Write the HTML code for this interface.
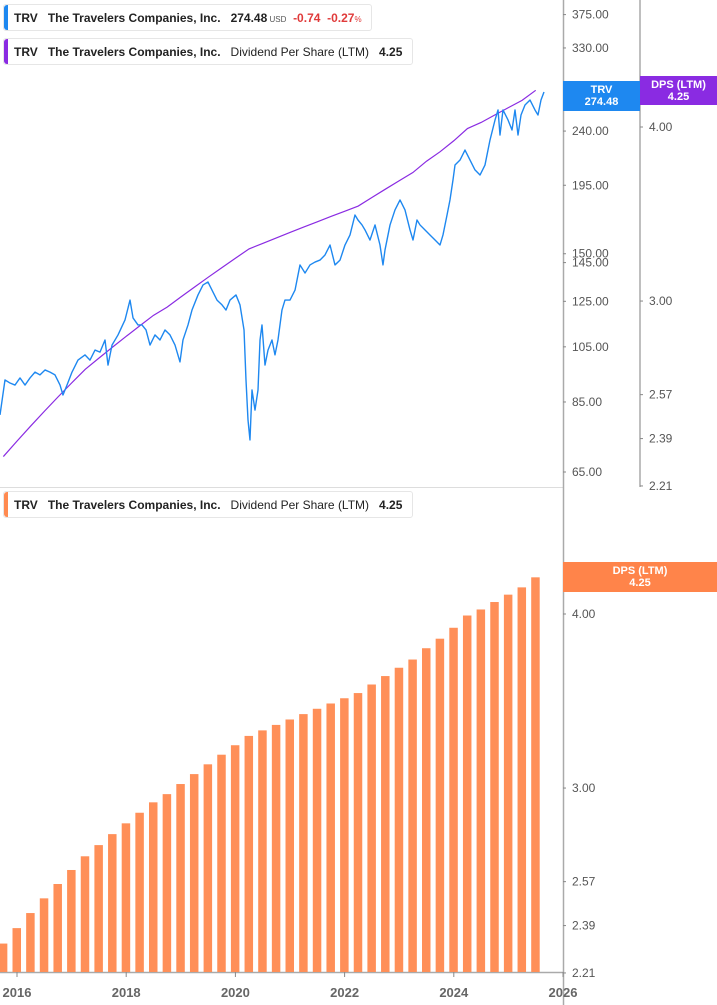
<!DOCTYPE html>
<html><head><meta charset="utf-8">
<style>
body{margin:0;background:#fff;font-family:"Liberation Sans",sans-serif;}
#wrap{position:relative;width:717px;height:1005px;overflow:hidden;}
.leg{position:absolute;left:3px;height:27px;border:1px solid #e6e6e6;border-radius:3px;background:#fff;font-size:12px;line-height:27px;color:#222;white-space:nowrap;box-sizing:border-box;padding-left:10px;}
.leg .bar{position:absolute;left:0;top:0;bottom:0;width:4px;border-radius:3px 0 0 3px;}
.leg b{font-weight:bold;}
</style></head><body>
<div id="wrap">
<svg id="svg" width="717" height="1005" style="position:absolute;left:0;top:0"></svg>
<div class="leg" style="top:4px;width:369px"><span class="bar" style="background:#1e88f0"></span><b>TRV</b>&nbsp;&nbsp;&nbsp;<b>The Travelers Companies, Inc.</b>&nbsp;&nbsp;&nbsp;<b>274.48</b><span style="font-size:8px;color:#555"> USD</span>&nbsp;&nbsp;<b style="color:#e03a3a">-0.74</b>&nbsp;&nbsp;<b style="color:#e03a3a">-0.27</b><span style="font-size:8px;color:#e03a3a">%</span></div>
<div class="leg" style="top:38px;width:410px"><span class="bar" style="background:#8a2be2"></span><b>TRV</b>&nbsp;&nbsp;&nbsp;<b>The Travelers Companies, Inc.</b>&nbsp;&nbsp;&nbsp;Dividend Per Share (LTM)&nbsp;&nbsp;&nbsp;<b>4.25</b></div>
<div class="leg" style="top:491px;width:410px"><span class="bar" style="background:#ff8a50"></span><b>TRV</b>&nbsp;&nbsp;&nbsp;<b>The Travelers Companies, Inc.</b>&nbsp;&nbsp;&nbsp;Dividend Per Share (LTM)&nbsp;&nbsp;&nbsp;<b>4.25</b></div>
</div>
<script>
const priceDates=[2015.689,2015.780,2015.872,2015.963,2016.055,2016.147,2016.238,2016.330,2016.421,2016.513,2016.604,2016.696,2016.788,2016.842,2016.916,2017.007,2017.117,2017.245,2017.337,2017.429,2017.520,2017.612,2017.667,2017.740,2017.850,2017.978,2018.070,2018.125,2018.216,2018.289,2018.363,2018.436,2018.527,2018.619,2018.711,2018.802,2018.894,2018.985,2019.040,2019.132,2019.205,2019.315,2019.407,2019.498,2019.571,2019.663,2019.755,2019.828,2019.901,2020.011,2020.084,2020.158,2020.194,2020.231,2020.267,2020.304,2020.359,2020.414,2020.451,2020.487,2020.542,2020.597,2020.670,2020.725,2020.780,2020.853,2020.908,2021.000,2021.092,2021.183,2021.275,2021.366,2021.458,2021.549,2021.641,2021.733,2021.824,2021.916,2022.007,2022.099,2022.190,2022.245,2022.319,2022.374,2022.465,2022.557,2022.648,2022.703,2022.740,2022.832,2022.923,2023.015,2023.106,2023.198,2023.253,2023.326,2023.381,2023.473,2023.564,2023.656,2023.747,2023.802,2023.876,2023.930,2023.985,2024.022,2024.114,2024.205,2024.297,2024.388,2024.480,2024.571,2024.663,2024.755,2024.810,2024.846,2024.901,2024.993,2025.066,2025.121,2025.176,2025.231,2025.304,2025.396,2025.487,2025.542,2025.597,2025.652];
const priceValues=[80.9,92.5,91.4,90.7,93.2,90.7,93.2,95.3,94.3,96.1,95.3,94.3,90.7,87.3,90.7,95.3,99.8,101.8,99.8,103.7,102.9,107.8,97.9,105.7,109.9,116.4,125.6,117.3,114.2,114.2,112.0,105.7,109.9,107.8,112.0,109.9,105.7,99.1,107.8,114.2,120.9,128.1,133.1,134.6,130.5,125.6,123.3,120.9,125.6,128.1,123.3,112.0,92.5,79.3,73.5,89.0,82.4,89.0,107.8,114.2,97.9,103.7,107.8,101.8,107.8,120.9,125.6,125.6,130.5,143.7,139.3,143.7,145.3,146.4,149.3,155.1,143.7,146.4,155.1,161.2,174.0,170.7,167.5,164.3,158.1,167.5,155.1,143.7,152.2,167.5,177.4,184.3,177.4,164.3,158.1,170.7,167.5,164.3,161.2,158.1,155.1,161.2,174.0,184.3,199.0,210.7,214.8,223.2,214.8,206.8,202.8,210.7,231.9,250.4,260.2,236.4,260.2,250.4,241.0,260.2,236.4,255.2,265.2,270.3,260.2,255.2,270.3,278.7];
const dpsDates=[2015.75,2016.0,2016.25,2016.5,2016.75,2017.0,2017.25,2017.5,2017.75,2018.0,2018.25,2018.5,2018.75,2019.0,2019.25,2019.5,2019.75,2020.0,2020.25,2020.5,2020.75,2021.0,2021.25,2021.5,2021.75,2022.0,2022.25,2022.5,2022.75,2023.0,2023.25,2023.5,2023.75,2024.0,2024.25,2024.5,2024.75,2025.0,2025.25,2025.5];
const dpsValues=[2.32,2.38,2.44,2.50,2.56,2.62,2.68,2.73,2.78,2.83,2.88,2.93,2.97,3.02,3.07,3.12,3.17,3.22,3.27,3.30,3.33,3.36,3.39,3.42,3.45,3.48,3.51,3.56,3.61,3.66,3.71,3.78,3.84,3.91,3.99,4.03,4.08,4.13,4.18,4.25];
const yearTicks=[2016,2018,2020,2022,2024,2026];
const priceTicks=[375,330,285,240,195,150,145,125,105,85,65];
const dpsTicks=[4.00,3.00,2.57,2.39,2.21];

const X=d=>17+(d-2016)*54.6;
const YP=p=>472-261*Math.log(p/65);
const YD=v=>127-605*Math.log(v/4);
const YB=v=>614-605*Math.log(v/4);
const svg=document.getElementById('svg');
const NS='http://www.w3.org/2000/svg';
function mk(t,a){const e=document.createElementNS(NS,t);for(const k in a)e.setAttribute(k,a[k]);svg.appendChild(e);return e;}
function txt(x,y,s,a){const e=mk('text',Object.assign({x:x,y:y,'font-family':'Liberation Sans, sans-serif','font-size':12,fill:'#555'},a));e.textContent=s;return e;}

// separators & axes
let e=mk('line',{x1:0,y1:487.5,x2:563,y2:487.5,stroke:'#ddd'});

e=mk('line',{x1:563.5,y1:0,x2:563.5,y2:1005,stroke:'#aaa','stroke-width':1.5});

e=mk('line',{x1:640,y1:0,x2:640,y2:487,stroke:'#aaa','stroke-width':1.5});

e=mk('line',{x1:0,y1:972.5,x2:563,y2:972.5,stroke:'#aaa','stroke-width':1.5});


priceTicks.forEach(p=>{const y=YP(p);
 e=mk('line',{x1:563,y1:y,x2:566,y2:y,stroke:'#888'});
 e=txt(572,y+4,p.toFixed(2));});
dpsTicks.forEach(v=>{const y=YD(v);
 e=mk('line',{x1:640,y1:y,x2:643,y2:y,stroke:'#888'});
 e=txt(649,y+4,v.toFixed(2));});
dpsTicks.forEach(v=>{const y=YB(v);
 e=mk('line',{x1:563,y1:y,x2:566,y2:y,stroke:'#888'});
 e=txt(572,y+4,v.toFixed(2));});
yearTicks.forEach(yr=>{const x=X(yr);
 e=mk('line',{x1:x,y1:972,x2:x,y2:977,stroke:'#888'});
 e=txt(x,997,String(yr),{'text-anchor':'middle','font-weight':'bold','font-size':13,fill:'#666'});});

// bars
dpsDates.forEach((d,i)=>{const x=X(d);const y=YB(dpsValues[i]);
 e=mk('rect',{x:x-4.5,y:y,width:8.5,height:972-y,fill:'#ff8f58'});
 });

// dps line
e=mk('polyline',{points:dpsDates.map((d,i)=>X(d)+','+YD(dpsValues[i])).join(' '),fill:'none',stroke:'#8a2be2','stroke-width':1.2});

// price line
e=mk('polyline',{points:priceDates.map((d,i)=>X(d)+','+YP(priceValues[i])).join(' '),fill:'none',stroke:'#1e88f0','stroke-width':1.4,'stroke-linejoin':'round'});


// badges
function badge(x,y,w,h,col,l1,l2,name){
 const r=mk('rect',{x:x,y:y,width:w,height:h,fill:col});
 let t=txt(x+w/2,y+12,l1,{'text-anchor':'middle',fill:'#fff','font-weight':'bold','font-size':11});
 t=txt(x+w/2,y+24,l2,{'text-anchor':'middle',fill:'#fff','font-weight':'bold','font-size':11});}
badge(563,81,77,30,'#1e88f0','TRV','274.48','price-badge');
badge(640,76,77,29,'#8a2be2','DPS (LTM)','4.25','dps-badge-top');
badge(563,562,154,30,'#ff844a','DPS (LTM)','4.25','dps-badge-bottom');
</script>
</body></html>
